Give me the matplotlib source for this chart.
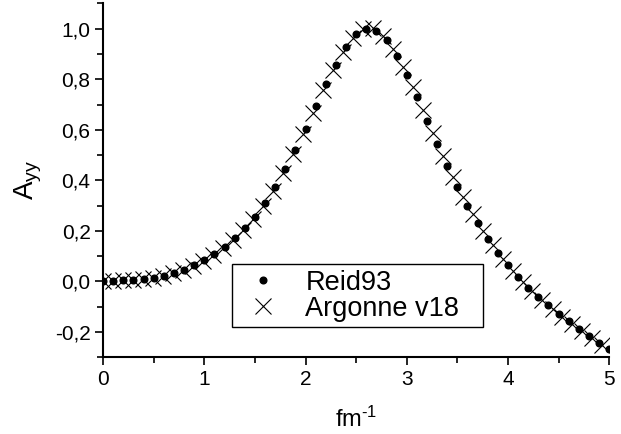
import numpy as np
import matplotlib
matplotlib.use("Agg")
import matplotlib.pyplot as plt
from matplotlib.ticker import MultipleLocator, FuncFormatter

plt.rcParams['font.family'] = ['Liberation Sans', 'DejaVu Sans']
plt.rcParams['mathtext.default'] = 'regular'

# Reid93 (step 0.1 fm^-1)
x_reid = [0.0, 0.1, 0.2, 0.3, 0.4, 0.5, 0.6, 0.7, 0.8, 0.9,
          1.0, 1.1, 1.2, 1.3, 1.4, 1.5, 1.6, 1.7, 1.8, 1.9,
          2.0, 2.1, 2.2, 2.3, 2.4, 2.5, 2.6, 2.7, 2.8, 2.9,
          3.0, 3.1, 3.2, 3.3, 3.4, 3.5, 3.6, 3.7, 3.8, 3.9,
          4.0, 4.1, 4.2, 4.3, 4.4, 4.5, 4.6, 4.7, 4.8, 4.9, 5.0]
y_reid = [0.000, 0.003, 0.004, 0.005, 0.008, 0.014, 0.022, 0.033, 0.046, 0.063,
          0.083, 0.107, 0.136, 0.170, 0.210, 0.255, 0.310, 0.373, 0.445, 0.522,
          0.605, 0.693, 0.781, 0.858, 0.928, 0.979, 1.000, 0.992, 0.954, 0.893,
          0.815, 0.729, 0.635, 0.543, 0.457, 0.373, 0.297, 0.232, 0.169, 0.113,
          0.063, 0.017, -0.025, -0.060, -0.095, -0.128, -0.158, -0.187, -0.216, -0.242, -0.269]

# Argonne v18
x_av18 = [0.000, 0.099, 0.197, 0.296, 0.395, 0.493, 0.592, 0.691, 0.789, 0.888,
          0.987, 1.085, 1.184, 1.283, 1.381, 1.480, 1.579, 1.677, 1.776, 1.875,
          1.973, 2.072, 2.171, 2.269, 2.368, 2.467, 2.565, 2.664, 2.763, 2.861,
          2.960, 3.059, 3.157, 3.256, 3.354, 3.453, 3.552, 3.650, 3.749, 3.848,
          3.946, 4.045, 4.144, 4.242, 4.341, 4.440, 4.538, 4.637, 4.736, 4.834, 4.933]
y_av18 = [0.000, 0.003, 0.004, 0.005, 0.008, 0.014, 0.021, 0.032, 0.045, 0.061,
          0.080, 0.103, 0.131, 0.164, 0.202, 0.246, 0.298, 0.359, 0.428, 0.503,
          0.583, 0.668, 0.758, 0.835, 0.907, 0.965, 0.997, 1.002, 0.972, 0.921,
          0.850, 0.768, 0.678, 0.586, 0.498, 0.414, 0.335, 0.265, 0.201, 0.143,
          0.090, 0.042, -0.001, -0.040, -0.075, -0.109, -0.140, -0.169, -0.198, -0.225, -0.251]

fig = plt.figure(figsize=(6.21, 4.34), dpi=100)
ax = fig.add_axes([0.166, 0.177, 0.815, 0.815])

ax.plot(x_reid, y_reid, 'o', color='black', markersize=4.8, label='Reid93', zorder=3)
ax.plot(x_av18, y_av18, 'x', color='black', markersize=11, markeredgewidth=0.8,
        label='Argonne v18', zorder=2)

ax.set_xlim(0, 5)
ax.set_ylim(-0.3, 1.1)

ax.spines['top'].set_visible(False)
ax.spines['right'].set_visible(False)
ax.spines['left'].set_linewidth(1.5)
ax.spines['bottom'].set_linewidth(1.5)

ax.xaxis.set_major_locator(MultipleLocator(1))
ax.xaxis.set_minor_locator(MultipleLocator(0.5))
ax.yaxis.set_major_locator(MultipleLocator(0.2))
ax.yaxis.set_minor_locator(MultipleLocator(0.1))
ax.yaxis.set_major_formatter(FuncFormatter(lambda v, p: ('%.1f' % v).replace('.', ',').replace('-0,0', '0,0')))
ax.xaxis.set_major_formatter(FuncFormatter(lambda v, p: '%d' % round(v)))

ax.tick_params(which='major', direction='out', length=6, width=1.2, labelsize=15, pad=3)
ax.tick_params(which='minor', direction='out', length=4, width=1.2)

ax.set_xlabel('fm$^{\u20101}$', fontsize=17, labelpad=13)
ax.set_ylabel('A$_{yy}$', fontsize=20, labelpad=8)

leg = ax.legend(loc='lower left', bbox_to_anchor=(0.255, 0.085, 0.496, 0.1), mode='expand',
                fontsize=19.5, frameon=True, fancybox=False, edgecolor='black', framealpha=1,
                handlelength=1.9, handletextpad=0.6, borderpad=0.2, labelspacing=0.0,
                borderaxespad=0)
leg.get_frame().set_linewidth(1.0)

fig.savefig('out.png', dpi=100)
